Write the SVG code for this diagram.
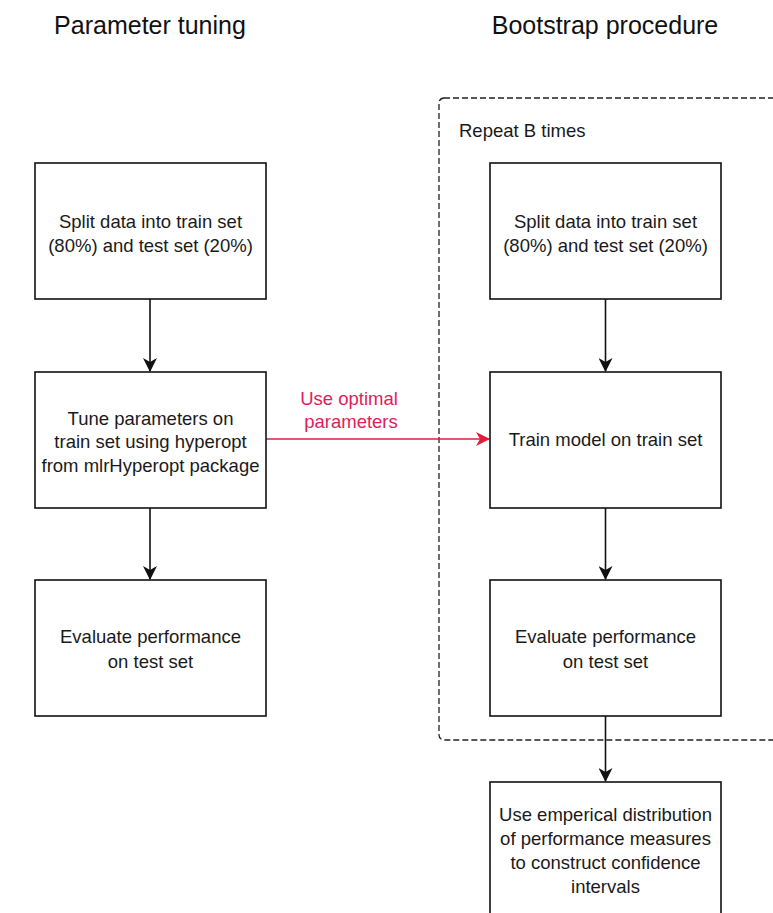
<svg xmlns="http://www.w3.org/2000/svg" width="773" height="913" viewBox="0 0 773 913">
<style>
.box{fill:#fff;stroke:#111;stroke-width:1.6}
.t{font-family:"Liberation Sans",Arial,sans-serif;font-size:18.5px;fill:#1a1a1a;text-anchor:middle}
.title{font-family:"Liberation Sans",Arial,sans-serif;font-size:25px;fill:#111;text-anchor:middle}
.lbl{font-family:"Liberation Sans",Arial,sans-serif;font-size:18.5px;fill:#1a1a1a}
.red{font-family:"Liberation Sans",Arial,sans-serif;font-size:18.5px;fill:#e0225a;text-anchor:middle}
.ln{stroke:#111;stroke-width:1.6;fill:none}
</style>
<defs>
<marker id="ah" markerWidth="14" markerHeight="14" refX="13" refY="7" orient="auto" markerUnits="userSpaceOnUse">
<path d="M0,0 L14,7 L0,14 L4,7 Z" fill="#111"/>
</marker>
<marker id="ahr" markerWidth="14" markerHeight="14" refX="13" refY="7" orient="auto" markerUnits="userSpaceOnUse">
<path d="M0,0 L14,7 L0,14 L4,7 Z" fill="#e31b3c"/>
</marker>
</defs>
<rect width="773" height="913" fill="#fff"/>
<text class="title" x="150" y="34">Parameter tuning</text>
<text class="title" x="605" y="34">Bootstrap procedure</text>
<g id="repeat">
<rect x="439" y="98" width="360" height="642" rx="5" fill="none" stroke="#222" stroke-width="1.3" stroke-dasharray="6,3"/>
<text class="lbl" x="459" y="137">Repeat B times</text>
</g>
<g id="connectors">
<line class="ln" x1="150" y1="299" x2="150" y2="371" marker-end="url(#ah)"/>
<line class="ln" x1="150" y1="508" x2="150" y2="579" marker-end="url(#ah)"/>
<line class="ln" x1="605.5" y1="299" x2="605.5" y2="371" marker-end="url(#ah)"/>
<line class="ln" x1="605.5" y1="508" x2="605.5" y2="579" marker-end="url(#ah)"/>
<line class="ln" x1="605.5" y1="716" x2="605.5" y2="781" marker-end="url(#ah)"/>
<line x1="266" y1="439" x2="489" y2="439" stroke="#e31b3c" stroke-width="1.6" marker-end="url(#ahr)"/>
<text class="red" x="349" y="405">Use optimal</text>
<text class="red" x="351" y="428">parameters</text>
</g>
<g id="p-split">
<rect class="box" x="35" y="163" width="231" height="136"/>
<text class="t" x="150.5" y="228">Split data into train set</text>
<text class="t" x="150.5" y="252">(80%) and test set (20%)</text>
</g>
<g id="p-tune">
<rect class="box" x="35" y="372" width="231" height="136"/>
<text class="t" x="150.5" y="424.5">Tune parameters on</text>
<text class="t" x="150.5" y="448">train set using hyperopt</text>
<text class="t" x="150.5" y="471.5">from mlrHyperopt package</text>
</g>
<g id="p-eval">
<rect class="box" x="35" y="580" width="231" height="136"/>
<text class="t" x="150.5" y="643">Evaluate performance</text>
<text class="t" x="150.5" y="668">on test set</text>
</g>
<g id="b-split">
<rect class="box" x="490" y="163" width="231" height="136"/>
<text class="t" x="605.5" y="228">Split data into train set</text>
<text class="t" x="605.5" y="252">(80%) and test set (20%)</text>
</g>
<g id="b-train">
<rect class="box" x="490" y="372" width="231" height="136"/>
<text class="t" x="605.5" y="446">Train model on train set</text>
</g>
<g id="b-eval">
<rect class="box" x="490" y="580" width="231" height="136"/>
<text class="t" x="605.5" y="643">Evaluate performance</text>
<text class="t" x="605.5" y="668">on test set</text>
</g>
<g id="b-ci">
<rect class="box" x="490" y="782" width="231" height="150"/>
<text class="t" x="605.5" y="821">Use emperical distribution</text>
<text class="t" x="605.5" y="845">of performance measures</text>
<text class="t" x="605.5" y="869">to construct confidence</text>
<text class="t" x="605.5" y="893">intervals</text>
</g>
</svg>
